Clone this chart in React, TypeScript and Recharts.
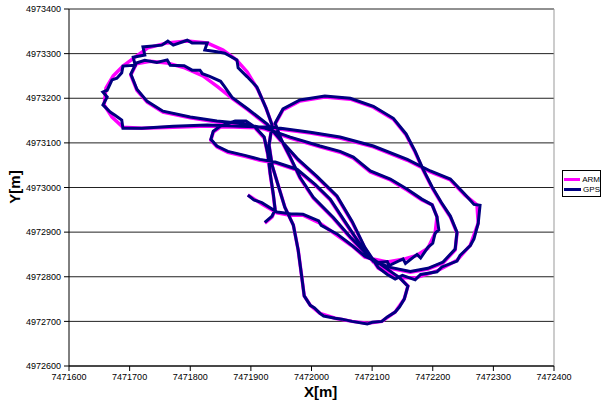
import { CartesianGrid, ReferenceLine, Scatter, ScatterChart, XAxis, YAxis } from "recharts";

const xTicks = [7471600, 7471700, 7471800, 7471900, 7472000, 7472100, 7472200, 7472300, 7472400];
const yTicks = [4972600, 4972700, 4972800, 4972900, 4973000, 4973100, 4973200, 4973300, 4973400];

const seriesNames = ["ARM", "GPS"];
const seriesColors = ["#ff00ff", "#000080"];

// smoothed track (ARM), [x, y] in metres
const armTrack: [number, number][] = [
    [7471895, 4972983], [7471918, 4972963], [7471943, 4972943], [7471965, 4972938], [7471986, 4972938],
    [7472014, 4972920], [7472042, 4972893], [7472067, 4972869], [7472088, 4972844],
    [7472125, 4972833], [7472151, 4972839], [7472174, 4972848], [7472192, 4972864], [7472204, 4972898],
    [7472207, 4972934], [7472199, 4972961], [7472182, 4972972], [7472158, 4972994], [7472130, 4973017],
    [7472097, 4973035], [7472069, 4973066], [7472047, 4973079], [7472014, 4973091], [7471965, 4973111],
    [7471923, 4973131],
    [7471882, 4973142], [7471844, 4973147], [7471800, 4973156], [7471755, 4973169], [7471729, 4973191],
    [7471712, 4973218], [7471702, 4973252], [7471711, 4973277],
    [7471734, 4973283], [7471762, 4973279], [7471791, 4973268], [7471821, 4973250], [7471846, 4973225],
    [7471869, 4973200], [7471895, 4973174], [7471927, 4973140],
    [7471948, 4973106], [7471978, 4973061], [7472009, 4973023], [7472042, 4972979], [7472067, 4972922],
    [7472088, 4972864], [7472110, 4972819],
    [7472138, 4972799], [7472171, 4972797], [7472207, 4972813], [7472240, 4972837], [7472262, 4972871],
    [7472275, 4972920], [7472273, 4972961],
    [7472253, 4972983], [7472229, 4973017], [7472196, 4973035], [7472158, 4973061], [7472102, 4973091],
    [7472047, 4973111], [7471998, 4973122], [7471937, 4973133],
    [7471882, 4973135], [7471828, 4973138], [7471772, 4973135], [7471720, 4973133], [7471689, 4973135],
    [7471671, 4973158], [7471658, 4973185], [7471661, 4973223], [7471673, 4973250], [7471689, 4973272],
    [7471709, 4973292], [7471730, 4973313], [7471762, 4973324], [7471795, 4973328], [7471828, 4973324],
    [7471854, 4973308], [7471876, 4973286], [7471894, 4973259], [7471912, 4973218], [7471925, 4973178],
    [7471935, 4973140],
    [7471930, 4973095], [7471935, 4973050], [7471945, 4973005], [7471956, 4972956], [7471970, 4972916],
    [7471978, 4972860], [7471984, 4972799], [7471988, 4972757], [7471998, 4972736], [7472014, 4972718],
    [7472039, 4972707], [7472067, 4972700], [7472092, 4972696], [7472116, 4972700], [7472138, 4972721],
    [7472153, 4972750], [7472159, 4972779], [7472146, 4972797],
    [7472121, 4972819], [7472093, 4972846], [7472064, 4972887], [7472036, 4972931], [7472003, 4972976],
    [7471981, 4973021], [7471965, 4973066], [7471950, 4973106], [7471940, 4973142],
    [7471953, 4973174], [7471981, 4973194], [7472022, 4973203], [7472064, 4973198], [7472102, 4973180],
    [7472135, 4973153], [7472156, 4973118], [7472171, 4973079], [7472184, 4973039], [7472199, 4972999],
    [7472214, 4972965], [7472229, 4972934], [7472240, 4972898], [7472237, 4972860], [7472217, 4972831],
    [7472192, 4972817], [7472163, 4972810], [7472130, 4972819], [7472102, 4972833],
    [7472080, 4972871], [7472055, 4972922], [7472031, 4972972], [7472006, 4973005], [7471976, 4973039],
    [7471940, 4973055], [7471915, 4973061], [7471890, 4973070], [7471862, 4973079], [7471844, 4973091],
    [7471834, 4973106], [7471838, 4973124], [7471849, 4973135], [7471874, 4973147], [7471892, 4973147],
    [7471907, 4973133], [7471922, 4973111], [7471928, 4973073], [7471932, 4973028], [7471937, 4972983],
    [7471940, 4972949], [7471935, 4972934], [7471923, 4972920]
];

// raw GPS fixes, [x, y] in metres
const gpsTrack: [number, number][] = [
    [7471895, 4972983], [7471905, 4972972], [7471918, 4972966], [7471943, 4972945], [7471965, 4972941],
    [7471986, 4972940], [7472012, 4972925], [7472016, 4972915], [7472042, 4972896], [7472067, 4972870],
    [7472088, 4972846],
    [7472110, 4972832], [7472125, 4972834], [7472128, 4972825], [7472151, 4972840], [7472155, 4972830],
    [7472174, 4972850], [7472180, 4972842], [7472192, 4972866], [7472200, 4972875], [7472204, 4972898],
    [7472210, 4972905], [7472207, 4972934], [7472199, 4972961], [7472182, 4972974], [7472158, 4972996],
    [7472130, 4973019], [7472097, 4973037], [7472069, 4973068], [7472047, 4973081], [7472014, 4973093],
    [7471965, 4973113], [7471923, 4973133],
    [7471882, 4973144], [7471844, 4973149], [7471800, 4973158], [7471755, 4973171], [7471729, 4973193],
    [7471712, 4973220], [7471702, 4973254], [7471711, 4973279],
    [7471725, 4973285], [7471745, 4973280], [7471762, 4973286], [7471767, 4973274], [7471790, 4973273],
    [7471803, 4973263], [7471816, 4973263], [7471820, 4973255], [7471832, 4973249], [7471850, 4973238],
    [7471856, 4973227], [7471869, 4973202], [7471895, 4973176], [7471927, 4973142],
    [7471948, 4973108], [7471978, 4973063], [7472009, 4973025], [7472042, 4972981], [7472067, 4972924],
    [7472088, 4972866], [7472110, 4972821],
    [7472125, 4972805], [7472138, 4972795], [7472150, 4972803], [7472171, 4972793], [7472180, 4972805],
    [7472207, 4972811], [7472215, 4972822], [7472240, 4972835], [7472245, 4972848], [7472262, 4972870],
    [7472268, 4972885], [7472275, 4972920], [7472278, 4972960], [7472268, 4972962],
    [7472253, 4972985], [7472229, 4973019], [7472196, 4973037], [7472158, 4973063], [7472102, 4973093],
    [7472047, 4973113], [7471998, 4973124], [7471937, 4973135],
    [7471882, 4973137], [7471828, 4973140], [7471772, 4973137], [7471720, 4973133], [7471689, 4973133],
    [7471687, 4973151], [7471676, 4973162], [7471668, 4973169], [7471656, 4973185], [7471663, 4973203],
    [7471656, 4973214], [7471663, 4973218], [7471671, 4973241], [7471679, 4973245], [7471687, 4973257],
    [7471689, 4973272], [7471709, 4973274], [7471706, 4973292], [7471725, 4973297], [7471722, 4973315],
    [7471753, 4973319], [7471763, 4973328], [7471772, 4973319], [7471795, 4973330], [7471803, 4973324],
    [7471828, 4973324], [7471824, 4973308], [7471844, 4973304], [7471857, 4973301], [7471877, 4973286],
    [7471879, 4973268], [7471894, 4973248], [7471910, 4973225], [7471925, 4973178], [7471935, 4973140],
    [7471930, 4973095], [7471935, 4973050], [7471945, 4973005], [7471956, 4972956], [7471970, 4972916],
    [7471978, 4972860], [7471984, 4972799], [7471988, 4972757], [7471998, 4972736],
    [7472005, 4972730], [7472014, 4972718], [7472020, 4972712], [7472039, 4972707], [7472050, 4972705],
    [7472067, 4972700], [7472092, 4972694], [7472100, 4972698], [7472116, 4972700], [7472125, 4972710],
    [7472138, 4972721], [7472145, 4972732], [7472153, 4972750], [7472159, 4972779], [7472146, 4972797],
    [7472121, 4972821], [7472093, 4972848], [7472064, 4972889], [7472036, 4972933], [7472003, 4972978],
    [7471981, 4973023], [7471965, 4973068], [7471950, 4973108], [7471940, 4973144],
    [7471953, 4973176], [7471981, 4973196], [7472022, 4973205], [7472064, 4973200], [7472102, 4973182],
    [7472135, 4973155], [7472156, 4973120], [7472171, 4973081], [7472184, 4973041], [7472199, 4973001],
    [7472214, 4972967], [7472229, 4972936], [7472240, 4972900], [7472237, 4972862], [7472217, 4972833],
    [7472192, 4972819], [7472163, 4972812], [7472130, 4972821], [7472102, 4972835],
    [7472080, 4972873], [7472055, 4972924], [7472031, 4972974], [7472006, 4973007], [7471976, 4973041],
    [7471940, 4973057], [7471915, 4973063], [7471890, 4973072], [7471862, 4973081], [7471844, 4973093],
    [7471834, 4973108], [7471838, 4973126], [7471849, 4973137], [7471874, 4973149], [7471892, 4973149],
    [7471907, 4973135], [7471922, 4973113], [7471928, 4973075], [7471932, 4973030], [7471937, 4972985],
    [7471940, 4972951], [7471935, 4972936], [7471923, 4972922]
];

const toPoints = (track: [number, number][]) => track.map(([x, y]) => ({ x, y }));

const font = "Arial, 'Liberation Sans', sans-serif";
const tickStyle = { fontSize: 9, fill: "#000", fontFamily: font };

const NoDot = () => <g />;

export default function App() {
    return (
        <div style={{ position: "absolute", left: 0, top: 0, width: 607, height: 405, background: "#fff" }}>
            <ScatterChart width={607} height={405} margin={{ top: 9, right: 53, bottom: 0, left: 0 }}>
                <CartesianGrid horizontal vertical={false} stroke="#222" strokeWidth={1} />
                <XAxis
                    type="number"
                    dataKey="x"
                    domain={[7471600, 7472400]}
                    ticks={xTicks}
                    height={39}
                    tick={tickStyle}
                    tickSize={5}
                    tickMargin={3}
                    stroke="#000"
                    interval={0}
                />
                <YAxis
                    type="number"
                    dataKey="y"
                    domain={[4972600, 4973400]}
                    ticks={yTicks}
                    width={69}
                    tick={tickStyle}
                    tickSize={5}
                    tickMargin={3}
                    stroke="#000"
                    interval={0}
                />
                <ReferenceLine x={7472400} stroke="#999" />
                <Scatter
                    name={seriesNames[0]}
                    data={toPoints(armTrack)}
                    line={{ stroke: seriesColors[0], strokeWidth: 3.5 }}
                    shape={NoDot}
                    isAnimationActive={false}
                />
                <Scatter
                    name={seriesNames[1]}
                    data={toPoints(gpsTrack)}
                    line={{ stroke: seriesColors[1], strokeWidth: 3 }}
                    shape={NoDot}
                    isAnimationActive={false}
                />
            </ScatterChart>
            <div style={{ position: "absolute", left: 304, top: 383, fontFamily: font, fontWeight: "bold", fontSize: 15 }}>
                X[m]
            </div>
            <div
                style={{
                    position: "absolute",
                    left: 14,
                    top: 187,
                    transform: "translate(-50%, -50%) rotate(-90deg)",
                    fontFamily: font,
                    fontWeight: "bold",
                    fontSize: 15
                }}
            >
                Y[m]
            </div>
            <div
                style={{
                    position: "absolute",
                    left: 562,
                    top: 170,
                    width: 39,
                    height: 27,
                    border: "1px solid #000",
                    fontFamily: font,
                    fontSize: 8,
                    boxSizing: "border-box",
                    padding: "3px 0 0 1px"
                }}
            >
                {seriesNames.map((name, i) => (
                    <div key={name} style={{ display: "flex", alignItems: "center", height: 10 }}>
                        <span style={{ display: "inline-block", width: 19, height: 3, background: seriesColors[i], marginRight: 2 }} />
                        <span>{name}</span>
                    </div>
                ))}
            </div>
        </div>
    );
}
